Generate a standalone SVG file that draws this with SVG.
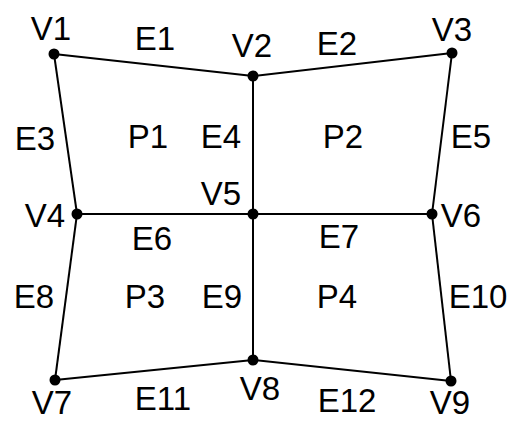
<svg xmlns="http://www.w3.org/2000/svg" width="513" height="423" viewBox="0 0 513 423">
<style>
.e{stroke:#000;stroke-width:2;fill:none}
.v{fill:#000}
text{font-family:"Liberation Sans",Arial,sans-serif;font-size:33px;fill:#000;text-anchor:middle}
</style>
<rect width="513" height="423" fill="#fff"/>
<g id="connectors">
<line class="e" x1="54" y1="54" x2="253" y2="76"/>
<line class="e" x1="253" y1="76" x2="452" y2="53"/>
<line class="e" x1="54" y1="54" x2="77" y2="214"/>
<line class="e" x1="253" y1="76" x2="253" y2="214"/>
<line class="e" x1="452" y1="53" x2="432" y2="214"/>
<line class="e" x1="77" y1="214" x2="253" y2="214"/>
<line class="e" x1="253" y1="214" x2="432" y2="214"/>
<line class="e" x1="77" y1="214" x2="55" y2="380"/>
<line class="e" x1="253" y1="214" x2="253" y2="360"/>
<line class="e" x1="432" y1="214" x2="451" y2="381"/>
<line class="e" x1="55" y1="380" x2="253" y2="360"/>
<line class="e" x1="253" y1="360" x2="451" y2="381"/>
</g>
<g id="edge-labels">
<text x="155" y="50">E1</text>
<text x="337" y="55">E2</text>
<text x="35" y="150">E3</text>
<text x="221" y="148">E4</text>
<text x="471" y="148">E5</text>
<text x="152" y="250">E6</text>
<text x="339" y="248">E7</text>
<text x="34" y="308">E8</text>
<text x="222" y="308">E9</text>
<text x="478" y="308">E10</text>
<text x="163" y="410">E11</text>
<text x="347" y="412">E12</text>
</g>
<g id="faces">
<text x="148" y="148">P1</text>
<text x="343" y="148">P2</text>
<text x="145" y="308">P3</text>
<text x="337" y="308">P4</text>
</g>
<g id="V1"><circle class="v" cx="54" cy="54" r="5.5"/><text x="51" y="40">V1</text></g>
<g id="V2"><circle class="v" cx="253" cy="76" r="5.5"/><text x="252" y="57">V2</text></g>
<g id="V3"><circle class="v" cx="452" cy="53" r="5.5"/><text x="452" y="41">V3</text></g>
<g id="V4"><circle class="v" cx="77" cy="214" r="5.5"/><text x="45" y="227">V4</text></g>
<g id="V5"><circle class="v" cx="253" cy="214" r="5.5"/><text x="221" y="205">V5</text></g>
<g id="V6"><circle class="v" cx="432" cy="214" r="5.5"/><text x="461" y="227">V6</text></g>
<g id="V7"><circle class="v" cx="55" cy="380" r="5.5"/><text x="52" y="414">V7</text></g>
<g id="V8"><circle class="v" cx="253" cy="360" r="5.5"/><text x="260" y="400">V8</text></g>
<g id="V9"><circle class="v" cx="451" cy="381" r="5.5"/><text x="450" y="414">V9</text></g>
</svg>
